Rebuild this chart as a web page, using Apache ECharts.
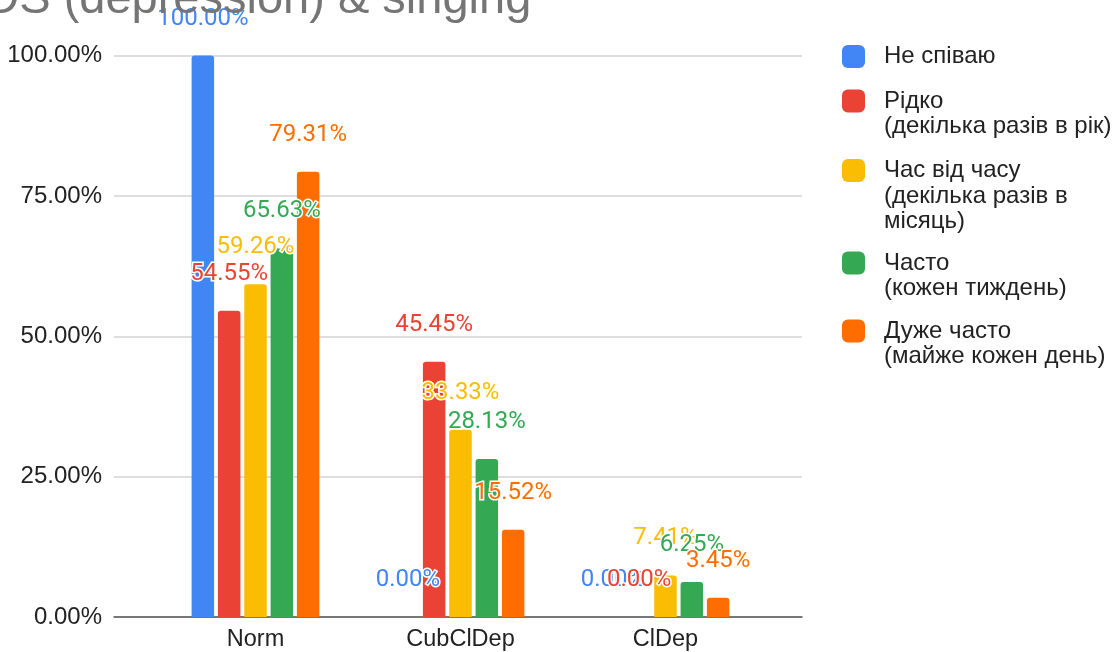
<!DOCTYPE html>
<html>
<head>
<meta charset="utf-8">
<script src="https://cdn.jsdelivr.net/npm/echarts@6/dist/echarts.min.js"></script>
<style>
  html, body { margin: 0; padding: 0; background: #fff; }
  #chart { width: 1115px; height: 652px; }
</style>
</head>
<body>
<div id="chart"></div>
<script>
// Groups on the x axis
const categories = ['Norm', 'CubClDep', 'ClDep'];

// Legend / series names (one entry per singing frequency)
const seriesNames = [
  'Не співаю',
  'Рідко\n(декілька разів в рік)',
  'Час від часу\n(декілька разів в\nмісяць)',
  'Часто\n(кожен тиждень)',
  'Дуже часто\n(майже кожен день)'
];

// Share of respondents, percent, per group
const neSpivayu    = [100.00, 0.00, 0.00];
const ridko        = [54.55, 45.45, 0.00];
const chasVidChasu = [59.26, 33.33, 7.41];
const chasto       = [65.63, 28.13, 6.25];
const duzheChasto  = [79.31, 15.52, 3.45];

const seriesValues = [neSpivayu, ridko, chasVidChasu, chasto, duzheChasto];
const seriesColors = ['#4285F4', '#EA4335', '#FBBC04', '#34A853', '#FF6D01'];

// Y axis ticks (percent)
const yMin = 0, yMax = 100, yStep = 25;

const chart = echarts.init(document.getElementById('chart'), null, { renderer: 'canvas' });

const axisFont = '"Liberation Sans", Arial, Helvetica, sans-serif';

// Legend entries: each is its own block so the swatch lines up with the first text line.
// Blank lines are prepended so the first real line sits at the swatch centre.
const legendLineH = 25.5;
const legendIconCenters = [56.5, 101, 170.5, 263, 331];
const legends = seriesNames.map(function (name, i) {
  const lines = name.split('\n').length;
  return {
    orient: 'vertical',
    left: 842,
    top: legendIconCenters[i] - (2 * lines - 1) * legendLineH / 2,
    padding: 0,
    itemWidth: 23,
    itemHeight: 23,
    icon: 'roundRect',
    selectedMode: false,
    data: [name],
    formatter: function (n) {
      return new Array(lines).join('\n') + n;
    },
    textStyle: {
      fontFamily: axisFont,
      fontSize: 24,
      lineHeight: legendLineH,
      color: '#222',
      padding: [0, 0, 0, 14]
    }
  };
});

const series = seriesValues.map(function (vals, i) {
  return {
    name: seriesNames[i],
    type: 'bar',
    xAxisIndex: 1,
    yAxisIndex: 1,
    data: vals,
    barWidth: 22.5,
    barGap: '17%',
    itemStyle: { color: seriesColors[i], borderRadius: [3, 3, 0, 0] },
    label: {
      show: true,
      position: 'top',
      distance: 25,
      fontFamily: 'Roboto, sans-serif',
      fontSize: 24,
      color: seriesColors[i],
      textBorderColor: '#fff',
      textBorderWidth: 3,
      formatter: function (p) { return p.value.toFixed(2) + '%'; }
    }
  };
});

chart.setOption({
  animation: false,
  backgroundColor: '#fff',
  title: {
    text: 'HADS (depression) & singing',
    left: -80,
    top: -23,
    padding: 0,
    textStyle: {
      fontFamily: axisFont,
      fontSize: 47,
      fontWeight: 'normal',
      color: '#757575'
    }
  },
  legend: legends,
  grid: [
    // frame for gridlines and the baseline
    { left: 114, top: 55.5, width: 688, height: 561.5 },
    // bar area
    { left: 153, top: 55.5, width: 615, height: 561.5 }
  ],
  xAxis: [
    {
      gridIndex: 0,
      type: 'category',
      data: [''],
      axisLine: { show: true, lineStyle: { color: '#555', width: 1.5 } },
      axisTick: { show: false },
      axisLabel: { show: false }
    },
    {
      gridIndex: 1,
      type: 'category',
      data: categories,
      axisLine: { show: false },
      axisTick: { show: false },
      axisLabel: {
        fontFamily: axisFont,
        fontSize: 23.5,
        color: '#222',
        margin: 11
      }
    }
  ],
  yAxis: [
    {
      gridIndex: 0,
      type: 'value',
      min: yMin,
      max: yMax,
      interval: yStep,
      axisLine: { show: false },
      axisTick: { show: false },
      splitLine: { lineStyle: { color: '#d3d3d3', width: 1.5 } },
      axisLabel: {
        fontFamily: axisFont,
        fontSize: 24,
        color: '#222',
        margin: 12,
        formatter: function (v) { return v.toFixed(2) + '%'; }
      }
    },
    {
      gridIndex: 1,
      type: 'value',
      min: yMin,
      max: yMax,
      interval: yStep,
      show: false,
      splitLine: { show: false }
    }
  ],
  series: series
});
</script>
</body>
</html>
